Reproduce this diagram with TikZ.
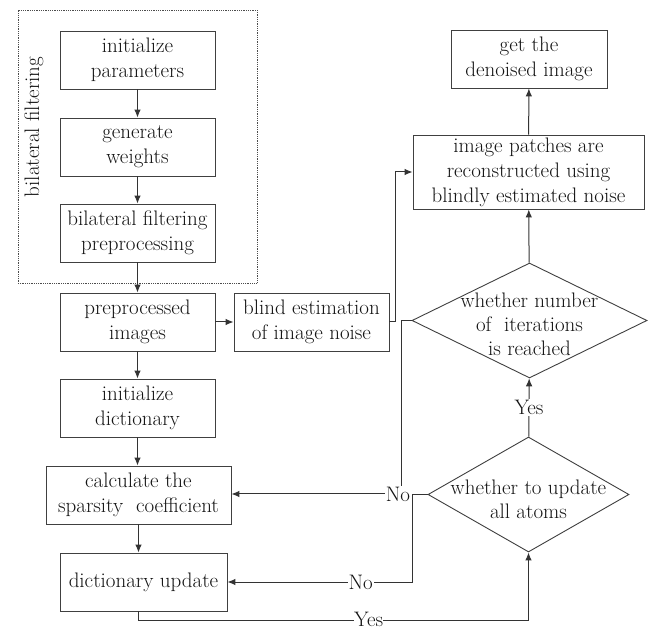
\documentclass[tikz,border=0pt]{standalone}
\usepackage{fontspec}
\usetikzlibrary{shapes.geometric,arrows.meta}
\begin{document}
\begin{tikzpicture}[x=1pt,y=-1pt,
  txt/.style={font=\fontsize{21}{25}\selectfont, text=black!92},
  box/.style={txt, draw=black!75, line width=0.9pt, minimum width=155pt, minimum height=58pt, inner sep=1pt, align=center},
  dia/.style={draw=black!75, line width=0.9pt, diamond, inner sep=0pt},
  dtext/.style={txt, align=center, font=\fontsize{21}{24}\selectfont},
  ln/.style={draw=black!80, line width=1pt},
  arr/.style={ln, -{Latex[length=8pt,width=6.5pt]}},
  lab/.style={txt, fill=white, inner sep=1pt}]
\useasboundingbox[fill=white] (0,0) rectangle (649,631);

% group box
\node[draw=black!70, densely dotted, line width=0.8pt, minimum width=239pt, minimum height=273pt, inner sep=0pt] (grp) at (137.5,146.5) {};
\node[txt, rotate=90] (grplab) at (34,127) {bilateral filtering};

% left column
\node[box] (b1) at (137.5,60) {initialize\\parameters};
\node[box] (b2) at (137.5,147) {generate\\weights};
\node[box] (b3) at (137.5,233) {bilateral filtering\\preprocessing};
\node[box] (b4) at (137.5,322) {preprocessed\\images};
\node[box] (b5) at (311.5,322) {blind estimation\\of image noise};
\node[box] (b6) at (137.5,408) {initialize\\dictionary};
\node[box, minimum width=185pt] (b7) at (138.5,495) {calculate the\\sparsity~ coefficient};
\node[box, minimum width=167pt] (b8) at (143.5,582) {dictionary update};

% right column
\node[box, minimum width=156pt] (b9) at (529,59) {get the\\denoised image};
\node[box, minimum width=231pt, minimum height=74pt] (b10) at (528.5,172) {image patches are\\reconstructed using\\blindly estimated noise};
\node[dia, minimum width=235pt, minimum height=115pt] (d1) at (529.5,320.5) {};
\node[dtext] (d1t) at (529.5,324) {whether number\\of~ iterations\\is reached};
\node[dia, minimum width=201pt, minimum height=115pt] (d2) at (528.5,494.5) {};
\node[dtext] (d2t) at (528.5,499) {whether to update\\all atoms};

% connectors
\draw[arr] (b1) -- (b2);
\draw[arr] (b2) -- (b3);
\draw[arr] (b3) -- (b4);
\draw[arr] (b4) -- (b6);
\draw[arr] (b6.south) -- (b6.south |- b7.north);
\draw[arr] (b7.south) -- (b7.south |- b8.north);
\draw[arr] (b4) -- (b5);
\draw[arr] (b5.east) -- ++(6,0) |- (b10.west);
\draw[arr] (b10) -- (b9);
\draw[arr] (d1) -- (b10);
\draw[arr] (d2) -- node[lab] (yes1) {Yes} (d1);

\node[lab, fill=none] (no1) at (398,494) {No};
\draw[ln] (d1.west) -- ++(-10,0) coordinate (k1) -- (k1 |- no1.north);
\draw[arr] (no1.west) -- (no1.west -| b7.east);
\draw[arr] (d2.west) -- ++(-15,0) coordinate (k2) |- node[lab, pos=0.64] (no2) {No} (b8.east);
\draw[arr] (b8.south -| b7.south) -- ++(0,9) -| node[lab, pos=0.295, inner sep=0.3pt, yshift=1pt] (yes2) {Yes} (d2.south);
\end{tikzpicture}
\end{document}
